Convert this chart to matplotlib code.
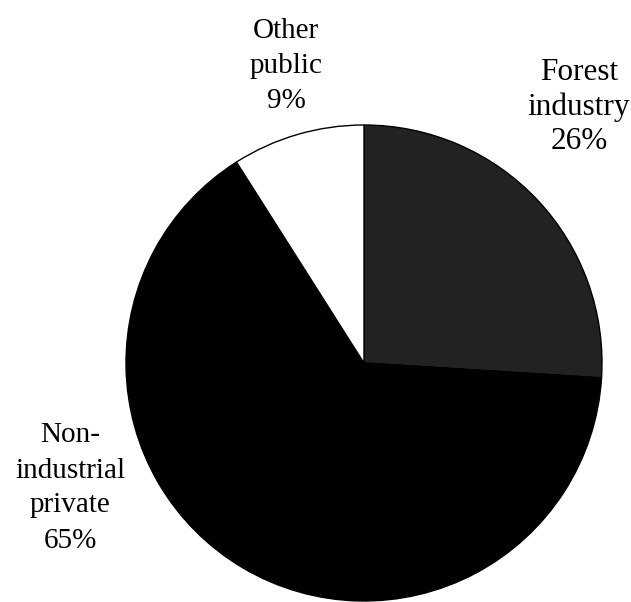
import matplotlib
matplotlib.use('Agg')
import matplotlib.pyplot as plt

# ownership shares (%)
owners = ['Forest\nindustry', 'Non-\nindustrial\nprivate', 'Other\npublic']
shares = [26, 65, 9]
colors = ['#222222', '#000000', '#ffffff']

plt.rcParams['font.family'] = ['Liberation Serif', 'DejaVu Serif']

W, H = 631, 602
cx, cy, r = 364, 363, 238
fig = plt.figure(figsize=(W / 100, H / 100), dpi=100)
ax = fig.add_axes([(cx - r) / W, (H - cy - r) / H, 2 * r / W, 2 * r / H])

ax.pie(shares, colors=colors, startangle=90, counterclock=False,
       wedgeprops=dict(edgecolor='black', linewidth=1))
ax.set_xlim(-1, 1)
ax.set_ylim(-1, 1)
ax.set_aspect('equal')
ax.axis('off')

def px(x, y):
    return (x - cx) / r, (cy - y) / r

# labels placed by pixel centre
x, y = px(579, 107)
ax.text(x, y, owners[0] + '\n%d%%' % shares[0], ha='center', va='center',
        fontsize=22.5, linespacing=1.25)
x, y = px(70, 488)
ax.text(x, y, owners[1] + '\n%d%%' % shares[1], ha='center', va='center',
        fontsize=21, linespacing=1.45)
x, y = px(286, 66)
ax.text(x, y, owners[2] + '\n%d%%' % shares[2], ha='center', va='center',
        fontsize=21, linespacing=1.45)

fig.savefig('out.png', dpi=100)
